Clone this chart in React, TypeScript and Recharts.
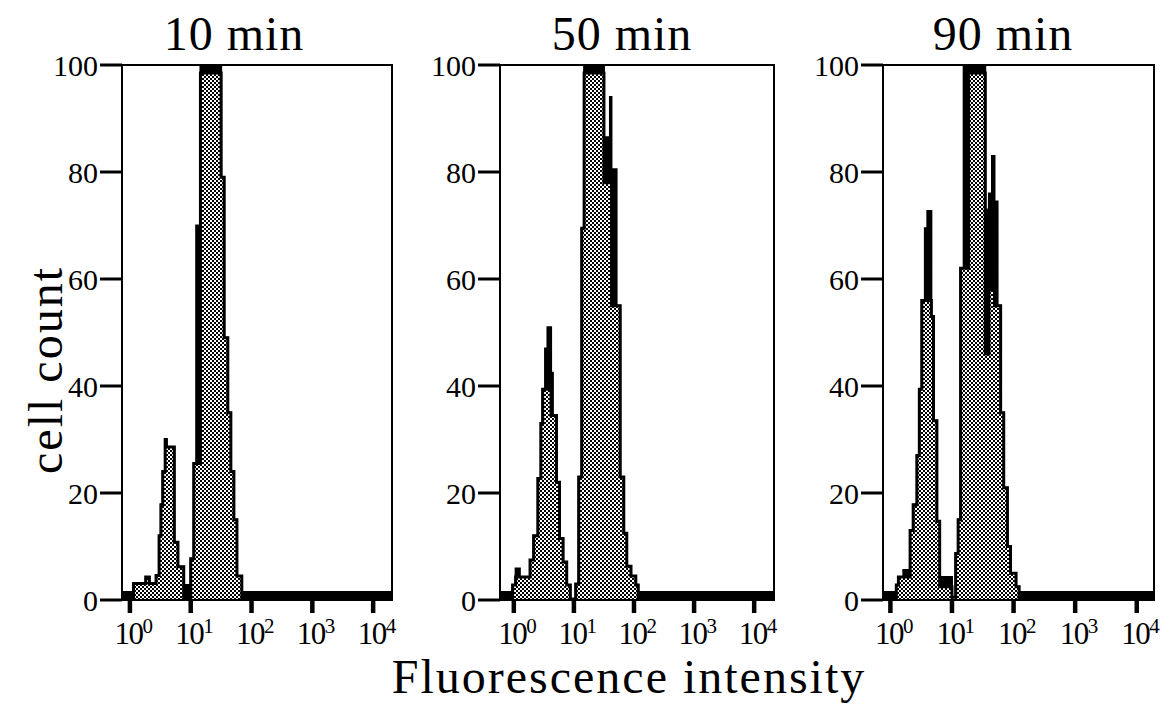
import { ComposedChart, Area, XAxis, YAxis, ReferenceArea } from "recharts"

// x positions are log10(fluorescence intensity), steps start at each edge
const edges10 = [-0.13, 0.06, 0.26, 0.32, 0.43, 0.48, 0.51, 0.54, 0.58, 0.6, 0.73, 0.79, 0.885, 1.0, 1.05, 1.09, 1.16, 1.5, 1.55, 1.61, 1.66, 1.71, 1.76, 1.84, 4.31]
const outline10 = [1.5, 3.1, 4.3, 3.1, 4.6, 12, 17.8, 24, 30, 28.6, 10.8, 6.2, 2.8, 7.7, 25.5, 70, 100, 79, 49, 35, 24, 15, 4.5, 1.5, 1.5]
const fill10 = [0, 3.1, 4.3, 3.1, 4.6, 12, 17.8, 24, 30, 28.6, 10.8, 6.2, 0, 7.7, 25.5, 25.5, 98.5, 79, 49, 35, 24, 15, 4.5, 0, 0]

const edges50 = [-0.23, -0.02, 0.03, 0.1, 0.27, 0.33, 0.4, 0.45, 0.48, 0.52, 0.56, 0.62, 0.65, 0.71, 0.76, 0.82, 0.88, 0.94, 1.03, 1.08, 1.13, 1.17, 1.5, 1.6, 1.625, 1.71, 1.77, 1.83, 1.88, 1.95, 2.03, 2.07, 4.33]
const outline50 = [1.5, 2.8, 5.9, 4.3, 7.5, 12, 22.7, 33, 39.4, 47, 51, 42.5, 34.5, 22, 11.5, 7.1, 2.8, 0.3, 3, 23, 69.5, 100, 86.5, 94, 80.5, 55, 23, 12.5, 6.3, 4.5, 2.8, 1.5, 1.5]
const fill50 = [0, 2.8, 4.3, 4.3, 7.5, 12, 22.7, 33, 39.4, 39.4, 39.4, 34.5, 34.5, 22, 11.5, 7.1, 2.8, 0, 3, 23, 69.5, 98.5, 78, 78, 55, 55, 23, 12.5, 6.3, 4.5, 2.8, 0, 0]

const edges90 = [-0.12, 0.096, 0.13, 0.21, 0.32, 0.37, 0.43, 0.47, 0.51, 0.56, 0.6, 0.665, 0.7, 0.755, 0.8, 1.0, 1.06, 1.1, 1.14, 1.19, 1.27, 1.54, 1.6, 1.65, 1.69, 1.74, 1.79, 1.84, 1.9, 1.95, 2.04, 2.09, 4.28]
const outline90 = [1.5, 2.8, 4.3, 5.6, 13, 17.8, 27, 39.4, 56, 69.5, 72.7, 53, 33.5, 14.7, 4.3, 0.5, 8.7, 15, 62, 100, 100, 73, 76, 83, 74.5, 55, 35, 21, 10, 5, 2.5, 1.5, 1.5]
const fill90 = [0, 2.8, 4.3, 4.3, 13, 17.8, 27, 39.4, 56, 56, 56, 53, 33.5, 14.7, 2.5, 0.5, 8.7, 15, 62, 62, 98.5, 46, 58, 58, 55, 55, 35, 21, 10, 5, 2.5, 0, 0]

const decadeTicks = [0, 1, 2, 3, 4]
const countTicks = [0, 20, 40, 60, 80, 100]
const titles = ["10 min", "50 min", "90 min"]

const FONT = "'Liberation Serif', 'DejaVu Serif', serif"

const XTick = ({ x, y, payload }: any) => (
  <text x={x + 3} y={y + 29} textAnchor="middle" fontFamily={FONT} fontSize={31} letterSpacing={-1.5} fill="#000">
    <tspan>10</tspan>
    <tspan dy={-11} fontSize={21}>{payload.value}</tspan>
  </text>
)

function Histogram({ id, left, plotWidth, domain, edges, outline, fill }: any) {
  const rows = edges.map((x: number, i: number) => ({ x, outline: outline[i], fill: fill[i] }))
  return (
    <div style={{ position: "absolute", left, top: 30 }}>
      <ComposedChart width={80 + plotWidth + 10} height={630} data={rows}
        margin={{ top: 35, right: 10, left: 0, bottom: 0 }}>
        <defs>
          <pattern id={`dots-${id}`} width={4} height={4} patternUnits="userSpaceOnUse">
            <rect width={4} height={4} fill="#fff" />
            <rect width={2} height={2} fill="#000" />
            <rect x={2} y={2} width={2} height={2} fill="#000" />
          </pattern>
        </defs>
        <XAxis dataKey="x" type="number" domain={domain} ticks={decadeTicks} interval={0}
          allowDataOverflow height={60} tickSize={13} tickMargin={2}
          axisLine={{ stroke: "#000", strokeWidth: 2 }}
          tickLine={{ stroke: "#000", strokeWidth: 4.5 }}
          tick={<XTick />} />
        <YAxis type="number" domain={[0, 100]} ticks={countTicks} interval={0}
          allowDataOverflow width={80} tickSize={22} tickMargin={2}
          axisLine={{ stroke: "#000", strokeWidth: 2 }}
          tickLine={{ stroke: "#000", strokeWidth: 3 }}
          tick={{ fill: "#000", fontSize: 30, fontFamily: FONT }} />
        <ReferenceArea x1={domain[0]} x2={domain[1]} y1={0} y2={100}
          fill="#fff" fillOpacity={0} stroke="#000" strokeWidth={2} />
        {/* black envelope (overlapping traces), then stippled histogram on top */}
        <Area type="stepAfter" dataKey="outline" stroke="#000" strokeWidth={2}
          fill="#000" fillOpacity={1} dot={false} activeDot={false} isAnimationActive={false} />
        <Area type="stepAfter" dataKey="fill" stroke="#000" strokeWidth={3}
          fill={`url(#dots-${id})`} fillOpacity={1} dot={false} activeDot={false} isAnimationActive={false} />
      </ComposedChart>
    </div>
  )
}

export default function App() {
  return (
    <div style={{ position: "absolute", left: 0, top: 0, width: 1170, height: 706, background: "#fff", overflow: "hidden" }}>
      <svg width={1170} height={706} style={{ position: "absolute", left: 0, top: 0 }}>
        <g fontFamily={FONT} fill="#000" fontSize={48} letterSpacing={1} textAnchor="middle">
          <text x={234} y={50}>{titles[0]}</text>
          <text x={622} y={50}>{titles[1]}</text>
          <text x={1003} y={50}>{titles[2]}</text>
          <text x={629} y={693} letterSpacing={2}>Fluorescence intensity</text>
          <text transform="translate(62,370) rotate(-90)" letterSpacing={2}>cell count</text>
        </g>
      </svg>
      <Histogram id="10" left={42} plotWidth={270} domain={[-0.13, 4.31]}
        edges={edges10} outline={outline10} fill={fill10} />
      <Histogram id="50" left={420} plotWidth={274} domain={[-0.23, 4.33]}
        edges={edges50} outline={outline50} fill={fill50} />
      <Histogram id="90" left={803} plotWidth={271} domain={[-0.12, 4.28]}
        edges={edges90} outline={outline90} fill={fill90} />
    </div>
  )
}
